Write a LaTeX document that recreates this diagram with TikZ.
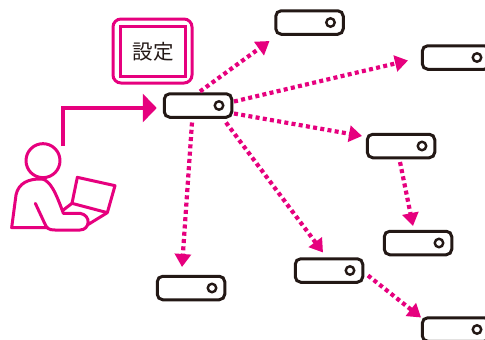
\documentclass[tikz,border=0pt]{standalone}
\usepackage{fontspec}
\newfontfamily\cjk{Noto Sans CJK JP}
\usetikzlibrary{arrows.meta}
\definecolor{pink}{HTML}{E6007E}
\definecolor{ink}{HTML}{231815}
\tikzset{
  device/.style={draw=ink,line width=3pt,rounded corners=5.5pt,minimum width=67.5pt,minimum height=23.5pt,inner sep=0pt,fill=white},
  led/.style={draw=ink,line width=2.4pt,circle,minimum size=8.5pt,inner sep=0pt},
  link/.style={draw=pink,line width=4.2pt,dash pattern=on 4pt off 3.3pt,-{Triangle[length=13pt,width=16pt,fill=pink]}},
  person/.style={draw=pink,line width=3pt,line join=round,line cap=round},
}
\newcommand{\devat}[2]{%
  \node[device] (#1) at (#2) {};
  \node[led] (#1led) at ([xshift=21pt]#1.center) {};
}
\begin{document}
\begin{tikzpicture}[x=1pt,y=-1pt]
\useasboundingbox (0,0) rectangle (485,340);
\clip (0,0) rectangle (485,340);
\fill[white] (0,0) rectangle (485,340);
\devat{main}{198,105.5}
\devat{top}{309.5,22.5}
\devat{rtop}{456,57.5}
\devat{mid}{401,146}
\devat{low}{418,243}
\devat{cen}{329,270.5}
\devat{left}{191,288}
\devat{rbot}{456,329.5}
% settings
\node[draw=pink,line width=3pt,rounded corners=8pt,minimum width=79pt,minimum height=64pt,inner sep=0pt] (setouter) at (152.5,51) {};
\node[draw=pink,line width=3pt,minimum width=65pt,minimum height=50pt,inner sep=0pt] (setting) at (153,51.5) {\cjk\fontsize{20.5pt}{20.5pt}\selectfont\color{ink}設定};
% dotted connectors
\draw[link] ([shift={(2,-14)}]main.center) -- ([shift={(-40,18.5)}]top.center);
\draw[link] ([shift={(36,-4)}]main.center) -- ([shift={(-48,3)}]rtop.center);
\draw[link] ([shift={(36,8)}]main.center) -- ([shift={(-39,-10)}]mid.center);
\draw[link] ([shift={(28,17)}]main.center) -- ([shift={(-6,-18)}]cen.center);
\draw[link] ([shift={(-6,17)}]main.center) -- ([shift={(-9,-21)}]left.center);
\draw[link] ([shift={(-1,16)}]mid.center) -- ([shift={(-5,-17)}]low.center);
\draw[link] ([shift={(39,5)}]cen.center) -- ([shift={(-35,-12)}]rbot.center);
% user arrow
\coordinate (userarm) at (63,146);
\draw[draw=pink,line width=4.6pt,-{Triangle[length=14pt,width=28pt,fill=pink]}] (userarm) |- ([shift={(-6,2.5)}]main.west);
% person
\begin{scope}[shift={(0,130)},scale=1/3]
\draw[person] (129,92) circle (51);
\draw[person] (128,147) .. controls (85,145) and (55,160) .. (48,195) -- (35,293) -- (142,293);
\draw[person] (128,147) .. controls (150,155) and (165,180) .. (190,250) -- (240,250) .. controls (275,255) and (270,300) .. (240,300) -- (165,300) .. controls (145,300) and (140,295) .. (133,278) -- (106,220);
\draw[person] (232,142) -- (345,167) -- (322,248) -- (216,220) -- cycle;
\draw[person] (216,220) -- (190,240);
\draw[person] (322,248) -- (262,285);
\end{scope}
\end{tikzpicture}
\end{document}
